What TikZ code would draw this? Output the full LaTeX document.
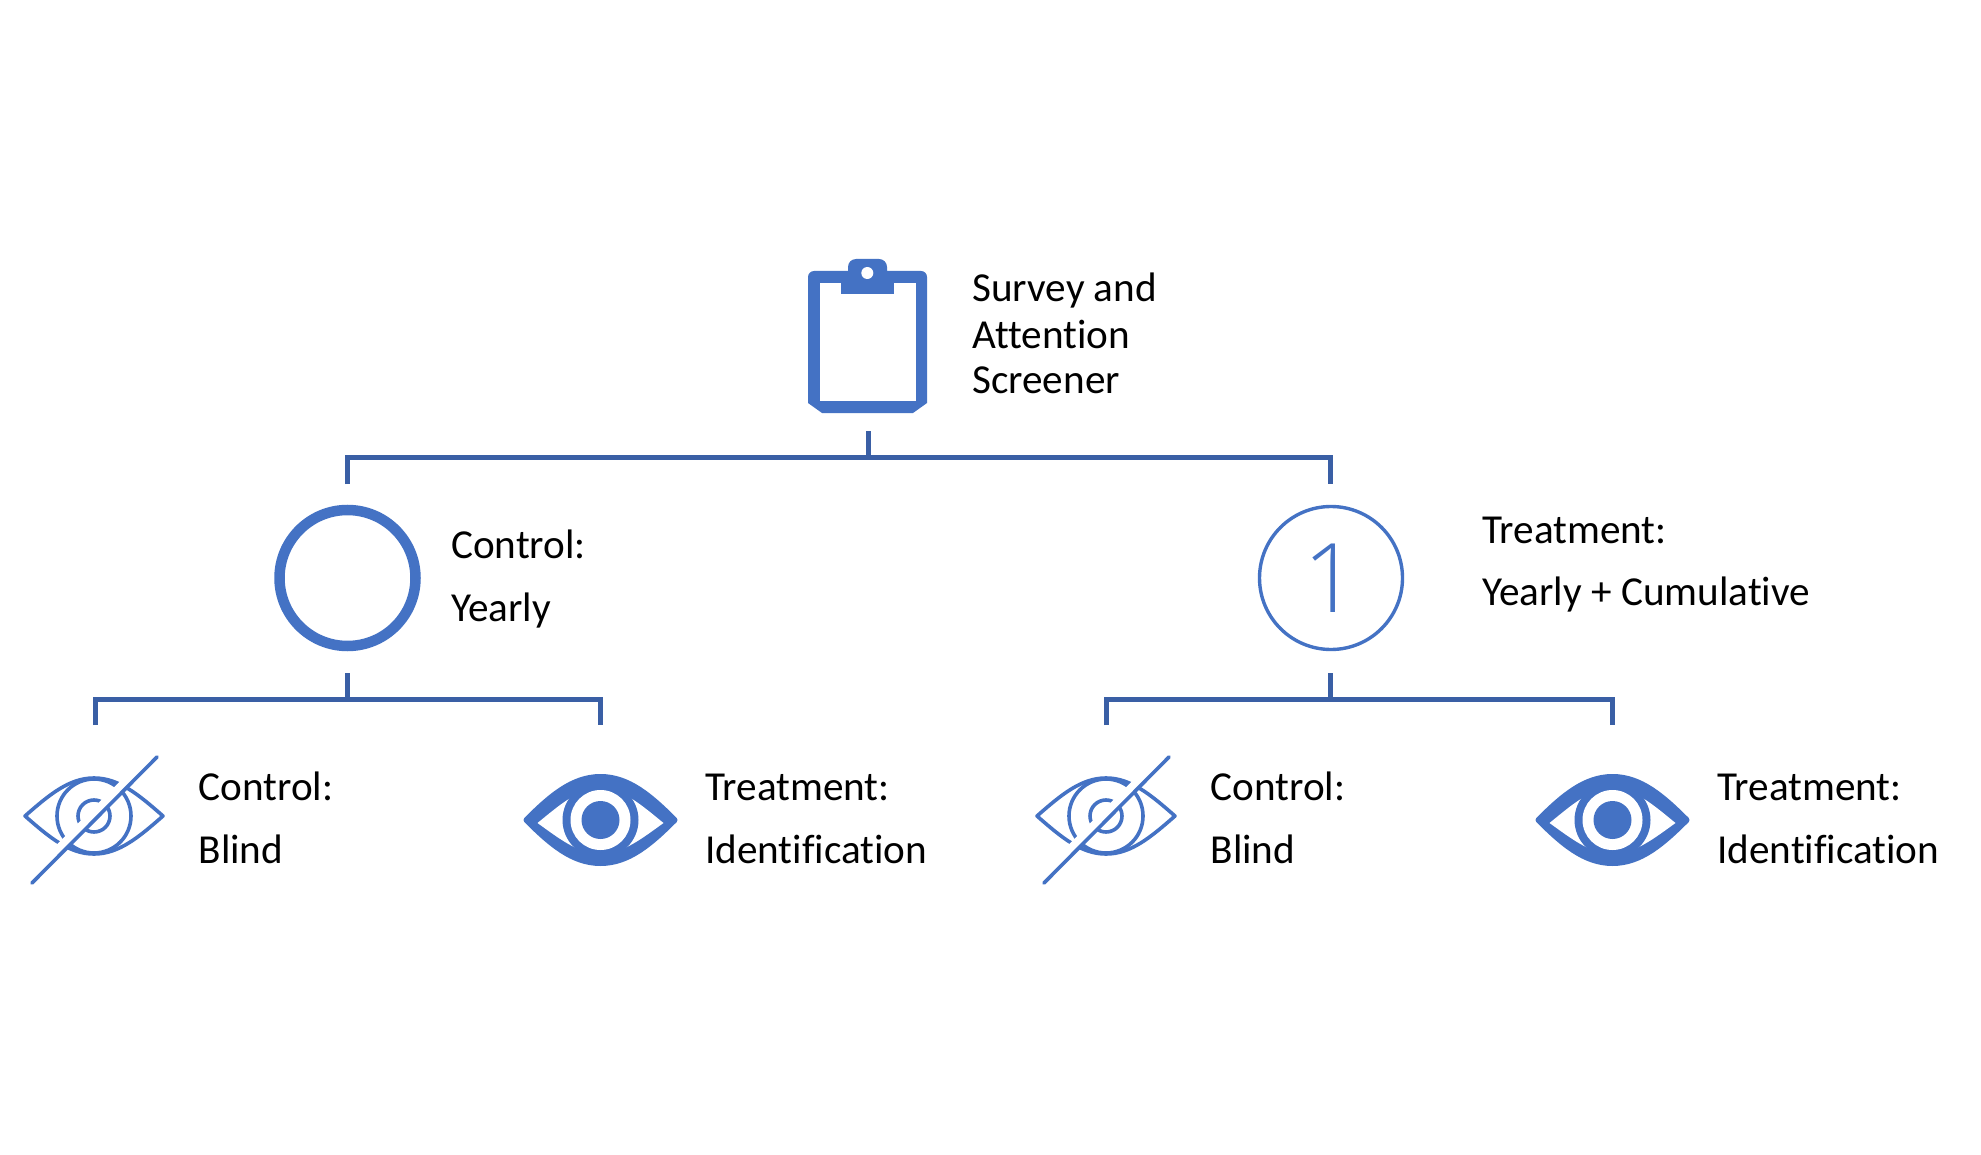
\documentclass[tikz,border=0pt]{standalone}
\usepackage{fontspec}
\setmainfont[Ligatures={NoCommon,NoRequired,NoContextual}]{Carlito}
\newfontfamily\lightfont{Open Sans Light}
\definecolor{iconblue}{HTML}{4472C4}
\definecolor{treeblue}{HTML}{3A5FA5}
\tikzset{
  treeline/.style={draw=treeblue,line width=5pt,line join=miter},
  label/.style={anchor=base west,inner sep=0pt,font=\fontsize{41.2}{46}\selectfont,text=black},
  thinicon/.style={draw=iconblue,line width=3.6pt,line cap=round,line join=round},
  solidicon/.style={fill=iconblue,draw=none},
}
\newcommand{\blindeye}[2]{%
\begin{scope}[shift={(#1,#2)}]
  \draw[thinicon] (-69,0) .. controls (-45,-21) and (-25,-38) .. (0,-38) .. controls (25,-38) and (45,-21) .. (69,0) .. controls (45,21) and (25,38) .. (0,38) .. controls (-25,38) and (-45,21) .. (-69,0) -- cycle;
  \draw[thinicon] (0,0) circle (37);
  \draw[thinicon] (0,0) circle (16);
  \draw[white,line width=8pt] (62,-65) -- (-68,65);
  \draw[thinicon] (63,-59) -- (-62,67);
\end{scope}}
\newcommand{\solideye}[2]{%
\begin{scope}[shift={(#1,#2)}]
  \fill[iconblue,draw=iconblue,line width=6pt,line join=round] (-74,0) .. controls (-50,-24) and (-28,-43) .. (0,-43) .. controls (28,-43) and (50,-24) .. (74,0) .. controls (50,24) and (28,43) .. (0,43) .. controls (-28,43) and (-50,24) .. (-74,0) -- cycle;
  \fill[white] (-63,3) .. controls (-42,-14) and (-22,-32) .. (0,-32) .. controls (22,-32) and (42,-14) .. (63,3) .. controls (42,18) and (22,34) .. (0,34) .. controls (-22,34) and (-42,18) .. (-63,3) -- cycle;
  \fill[iconblue] (0,0) circle (38);
  \fill[white] (0,0) circle (30);
  \fill[iconblue] (0,0) circle (19);
\end{scope}}
\begin{document}
\begin{tikzpicture}[x=1pt,y=-1pt]
\useasboundingbox (0,0) rectangle (1981,1155);
\fill[white] (0,0) rectangle (1981,1155);

% clipboard
\fill[iconblue] (808,277) to[out=90,in=180] (814,271) -- (848,271) -- (848,267) to[out=90,in=180] (856,259) -- (879,259) to[out=0,in=90] (887,267) -- (887,271) -- (921,271) to[out=0,in=90] (927,277) -- (927,403) -- (913,413) -- (822,413) -- (808,403) -- cycle;
\fill[white] (819.5,283) rectangle (915.5,401.5);
\fill[iconblue] (841,280) rectangle (894,294);
\fill[white] (867.3,273) circle (6);

% level circles
\node[circle,draw=iconblue,line width=10.5pt,minimum size=136pt,inner sep=0pt] (ctrl) at (347.5,578) {};
\node[circle,draw=iconblue,line width=3.4pt,minimum size=143pt,inner sep=0pt,font=\lightfont\fontsize{96}{96}\selectfont,text=iconblue] (treat) at (1331,578) {1};

% tree
\coordinate (top) at (868,431);
\coordinate (topj) at (868,457.5);
\coordinate (topl) at (347.5,484);
\coordinate (topr) at (1330.5,484);
\draw[treeline] (top) -- (topj);
\draw[treeline] (topl) |- (topj) -| (topr);

\coordinate (ls) at (347.5,673);
\coordinate (lj) at (347.5,699);
\coordinate (lb) at (95,725);
\coordinate (lt) at (600.5,725);
\draw[treeline] (ls) -- (lj);
\draw[treeline] (lb) |- (lj) -| (lt);

\coordinate (rs) at (1330.5,673);
\coordinate (rj) at (1330.5,699);
\coordinate (rb) at (1106.5,725);
\coordinate (rt) at (1612.5,725);
\draw[treeline] (rs) -- (rj);
\draw[treeline] (rb) |- (rj) -| (rt);

% eyes
\blindeye{94}{816}
\solideye{600.5}{820}
\blindeye{1106}{816}
\solideye{1612.5}{820}

% labels
\node[label] (s1) at (972,302) {Survey and};
\node[label] (s2) at (972,349) {Attention};
\node[label] (s3) at (972,393.5) {Screener};
\node[label] (c1) at (451,558) {Control:};
\node[label] (c2) at (451,621) {Yearly};
\node[label] (t1) at (1482,543) {Treatment:};
\node[label] (t2) at (1482,605) {Yearly + Cumulative};
\node[label] (b1) at (198.5,800) {Control:};
\node[label] (b2) at (198.5,863) {Blind};
\node[label] (i1) at (705,800) {Treatment:};
\node[label] (i2) at (705,863) {Identification};
\node[label] (b3) at (1210.5,800) {Control:};
\node[label] (b4) at (1210.5,863) {Blind};
\node[label] (i3) at (1717,800) {Treatment:};
\node[label] (i4) at (1717,863) {Identification};
\end{tikzpicture}
\end{document}
